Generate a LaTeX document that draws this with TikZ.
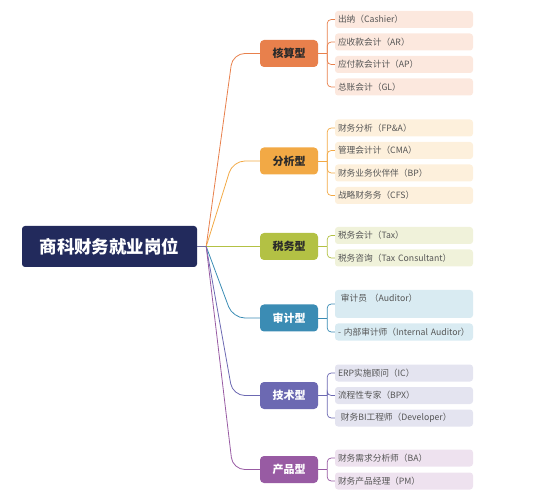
\documentclass[tikz,border=0pt]{standalone}
\usepackage{fontspec}
\setmainfont{Noto Sans CJK SC}
\usepackage{tikz}
\usetikzlibrary{calc}

\definecolor{rootc}{HTML}{222A5C}
\definecolor{ca}{HTML}{E8804C}
\definecolor{cal}{HTML}{FCE8DE}
\definecolor{cb}{HTML}{F2A945}
\definecolor{cbl}{HTML}{FDF0DC}
\definecolor{cc}{HTML}{B3C144}
\definecolor{ccl}{HTML}{F0F2DA}
\definecolor{cd}{HTML}{3B8CB4}
\definecolor{cdl}{HTML}{D9EBF2}
\definecolor{ce}{HTML}{6C69B2}
\definecolor{cel}{HTML}{E4E4F0}
\definecolor{cf}{HTML}{985BA3}
\definecolor{cfl}{HTML}{EEE2EF}
\definecolor{leaftxt}{HTML}{555555}
\definecolor{cattxt}{HTML}{2A2A2A}

\tikzset{
  root/.style={fill=rootc, text=white, rounded corners=3pt, minimum width=175pt,
    minimum height=41pt, font=\fontsize{17.5}{20}\selectfont\bfseries},
  cat/.style={fill=#1, text=cattxt, rounded corners=4pt, minimum width=58pt,
    minimum height=27pt, font=\fontsize{11}{13}\selectfont\bfseries},
  leaf/.style={fill=#1, rounded corners=3pt, minimum height=17pt, text width=132pt,
    inner xsep=3pt, inner ysep=1pt, align=left, text=leaftxt,
    font=\fontsize{8.7}{10}\selectfont},
  trunk/.style={#1, line width=0.8pt, rounded corners=12pt},
  twig/.style={#1, line width=0.7pt, rounded corners=4pt},
}

\begin{document}
\begin{tikzpicture}[x=1pt, y=-1pt]
    \useasboundingbox (0,0) rectangle (539,500);

    \node[root] (r) at (109.5,246.5) {商科财务就业岗位};

    \node[cat=ca] (c1) at (289,53.5) {核算型};
    \node[cat=cb] (c2) at (289,161) {分析型};
    \node[cat=cc] (c3) at (289,246.5) {税务型};
    \node[cat=cd, text=white] (c4) at (289,318) {审计型};
    \node[cat=ce, text=white] (c5) at (289,395.5) {技术型};
    \node[cat=cf, text=white] (c6) at (289,469.5) {产品型};

    % root to categories
    \draw[trunk=ce!60!gray] (r.east) -- ++(9,0);
    \draw[trunk=ca] (r.east) ++(9,0) -- ([xshift=-27pt]c1.west) -- (c1.west);
    \draw[trunk=cb] (r.east) ++(9,0) -- ([xshift=-27pt]c2.west) -- (c2.west);
    \draw[trunk=cc] (r.east) ++(9,0) -- (c3.west);
    \draw[trunk=cd] (r.east) ++(9,0) -- ([xshift=-27pt]c4.west) -- (c4.west);
    \draw[trunk=ce] (r.east) ++(9,0) -- ([xshift=-27pt]c5.west) -- (c5.west);
    \draw[trunk=cf] (r.east) ++(9,0) -- ([xshift=-27pt]c6.west) -- (c6.west);

    % leaves
    \node[leaf=cal] (l11) at (404,19.5) {出纳（Cashier）};
    \node[leaf=cal] (l12) at (404,42) {应收款会计（AR）};
    \node[leaf=cal] (l13) at (404,64.5) {应付款会计计（AP）};
    \node[leaf=cal] (l14) at (404,87) {总账会计（GL）};

    \node[leaf=cbl] (l21) at (404,128) {财务分析（FP\&A）};
    \node[leaf=cbl] (l22) at (404,150.5) {管理会计计（CMA）};
    \node[leaf=cbl] (l23) at (404,173) {财务业务伙伴伴（BP）};
    \node[leaf=cbl] (l24) at (404,195.5) {战略财务务（CFS）};

    \node[leaf=ccl] (l31) at (404,235.5) {税务会计（Tax）};
    \node[leaf=ccl] (l32) at (404,258) {税务咨询（Tax Consultant）};

    \node[leaf=cdl, minimum height=28pt, text depth=12pt] (l41) at (404,304) {\ 审计员 （Auditor）};
    \node[leaf=cdl] (l42) at (404,332) {- 内部审计师（Internal Auditor）};

    \node[leaf=cel] (l51) at (404,373) {ERP实施顾问（IC）};
    \node[leaf=cel] (l52) at (404,395.5) {流程性专家（BPX）};
    \node[leaf=cel] (l53) at (404,418) {\ 财务BI工程师（Developer）};

    \node[leaf=cfl] (l61) at (404,458) {财务需求分析师（BA）};
    \node[leaf=cfl] (l62) at (404,481) {财务产品经理（PM）};

    % categories to leaves
    \draw[twig=ca] (c1.east) -- ++(9,0);
    \draw[twig=ca] (c1.east) ++(9,0) |- (l11.west);
    \draw[twig=ca] (c1.east) ++(9,0) |- (l12.west);
    \draw[twig=ca] (c1.east) ++(9,0) |- (l13.west);
    \draw[twig=ca] (c1.east) ++(9,0) |- (l14.west);

    \draw[twig=cb] (c2.east) -- ++(9,0);
    \draw[twig=cb] (c2.east) ++(9,0) |- (l21.west);
    \draw[twig=cb] (c2.east) ++(9,0) |- (l22.west);
    \draw[twig=cb] (c2.east) ++(9,0) |- (l23.west);
    \draw[twig=cb] (c2.east) ++(9,0) |- (l24.west);

    \draw[twig=cc] (c3.east) -- ++(9,0);
    \draw[twig=cc] (c3.east) ++(9,0) |- (l31.west);
    \draw[twig=cc] (c3.east) ++(9,0) |- (l32.west);

    \draw[twig=cd] (c4.east) -- ++(9,0);
    \draw[twig=cd] (c4.east) ++(9,0) |- (l41.west);
    \draw[twig=cd] (c4.east) ++(9,0) |- (l42.west);

    \draw[twig=ce] (c5.east) -- ++(9,0);
    \draw[twig=ce] (c5.east) ++(9,0) |- (l51.west);
    \draw[twig=ce] (c5.east) ++(9,0) |- (l52.west);
    \draw[twig=ce] (c5.east) ++(9,0) |- (l53.west);

    \draw[twig=cf] (c6.east) -- ++(9,0);
    \draw[twig=cf] (c6.east) ++(9,0) |- (l61.west);
    \draw[twig=cf] (c6.east) ++(9,0) |- (l62.west);
\end{tikzpicture}
\end{document}
